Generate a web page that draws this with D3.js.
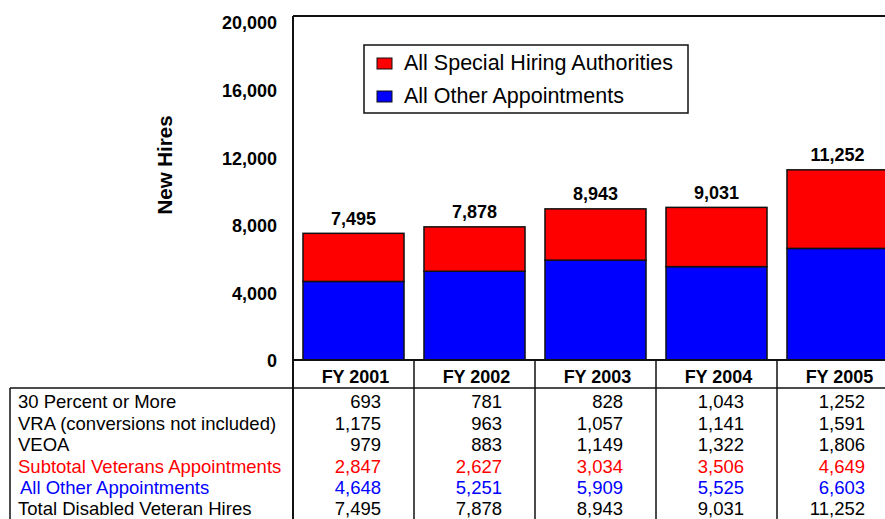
<!DOCTYPE html>
<html lang="en">
<head>
  <meta charset="UTF-8">
  <title>Disabled Veteran New Hires</title>
  <script src="https://d3js.org/d3.v7.min.js"></script>
  <style>
    body {
      margin: 0;
      background: #fff;
      font-family: "Liberation Sans", Arial, sans-serif;
    }
  </style>
</head>
<body>
  <div id="chart"></div>

  <script>
    // ============================
    // Data
    // ============================
    const years = ["FY 2001", "FY 2002", "FY 2003", "FY 2004", "FY 2005"];
    const specialHiring = [2847, 2627, 3034, 3506, 4649];
    const otherAppointments = [4648, 5251, 5909, 5525, 6603];
    const totals = [7495, 7878, 8943, 9031, 11252];
    const yTicks = [0, 4000, 8000, 12000, 16000, 20000];

    const rowLabels = [
      "30 Percent or More",
      "VRA (conversions not included)",
      "VEOA",
      "Subtotal Veterans Appointments",
      "All Other Appointments",
      "Total Disabled Veteran Hires"
    ];
    const thirtyPercent = [693, 781, 828, 1043, 1252];
    const vra = [1175, 963, 1057, 1141, 1591];
    const veoa = [979, 883, 1149, 1322, 1806];
    const rowValues = [thirtyPercent, vra, veoa, specialHiring, otherAppointments, totals];
    const rowColors = ["#000", "#000", "#000", "#ff0000", "#0000ff", "#000"];

    const legendLabels = ["All Special Hiring Authorities", "All Other Appointments"];
    const legendColors = ["#ff0000", "#0000ff"];

    // ============================
    // Layout
    // ============================
    const W = 885, H = 519;
    const plotLeft = 293, plotTop = 16, baseY = 360;

    const svg = d3.select("#chart")
      .append("svg")
      .attr("width", W)
      .attr("height", H);

    const x = d3.scaleBand()
      .domain(years)
      .range([plotLeft, plotLeft + 605])
      .paddingInner(0.165)
      .paddingOuter(0.0825);

    const y = d3.scaleLinear()
      .domain([0, 20000])
      .range([baseY, 22]);

    const fmt = d3.format(",");

    // ============================
    // Bars
    // ============================
    const stacked = years.map((yr, i) => ({
      year: yr,
      other: otherAppointments[i],
      special: specialHiring[i],
      total: totals[i]
    }));

    svg.selectAll(".bar-other")
      .data(stacked)
      .enter().append("rect")
      .attr("x", d => x(d.year))
      .attr("y", d => y(d.other))
      .attr("width", x.bandwidth())
      .attr("height", d => baseY - y(d.other))
      .attr("fill", "#0000ff")
      .attr("stroke", "#111")
      .attr("stroke-width", 1.5);

    svg.selectAll(".bar-special")
      .data(stacked)
      .enter().append("rect")
      .attr("x", d => x(d.year))
      .attr("y", d => y(d.other + d.special))
      .attr("width", x.bandwidth())
      .attr("height", d => y(d.other) - y(d.other + d.special))
      .attr("fill", "#ff0000")
      .attr("stroke", "#111")
      .attr("stroke-width", 1.5);

    svg.selectAll(".total-label")
      .data(stacked)
      .enter().append("text")
      .attr("x", d => x(d.year) + x.bandwidth() / 2)
      .attr("y", d => y(d.total) - 15)
      .attr("dy", "0.35em")
      .attr("text-anchor", "middle")
      .style("font-size", "18px")
      .style("font-weight", "bold")
      .text(d => fmt(d.total));

    // ============================
    // Axes and frame
    // ============================
    svg.selectAll(".y-tick")
      .data(yTicks)
      .enter().append("text")
      .attr("x", 277)
      .attr("y", d => y(d) + 1)
      .attr("dy", "0.35em")
      .attr("text-anchor", "end")
      .style("font-size", "18px")
      .style("font-weight", "bold")
      .text(d => fmt(d));

    svg.append("text")
      .attr("transform", `translate(172,165) rotate(-90)`)
      .attr("text-anchor", "middle")
      .style("font-size", "20.5px")
      .style("font-weight", "bold")
      .text("New Hires");

    // top frame and y axis
    svg.append("line")
      .attr("x1", plotLeft).attr("x2", W + 20)
      .attr("y1", plotTop).attr("y2", plotTop)
      .attr("stroke", "#111").attr("stroke-width", 2);
    svg.append("line")
      .attr("x1", plotLeft).attr("x2", plotLeft)
      .attr("y1", plotTop).attr("y2", H)
      .attr("stroke", "#111").attr("stroke-width", 2);
    // baseline
    svg.append("line")
      .attr("x1", plotLeft).attr("x2", W + 20)
      .attr("y1", baseY).attr("y2", baseY)
      .attr("stroke", "#111").attr("stroke-width", 2);

    // ============================
    // Legend
    // ============================
    const legend = svg.append("g");
    legend.append("rect")
      .attr("x", 364).attr("y", 45)
      .attr("width", 324).attr("height", 68)
      .attr("fill", "#fff")
      .attr("stroke", "#111")
      .attr("stroke-width", 1.5);

    const legendY = d3.scalePoint().domain(legendLabels).range([62, 95]);

    legend.selectAll(".swatch")
      .data(legendLabels)
      .enter().append("rect")
      .attr("x", 377)
      .attr("y", d => legendY(d) - 4)
      .attr("width", 15)
      .attr("height", 11)
      .attr("fill", (d, i) => legendColors[i])
      .attr("stroke", "#111")
      .attr("stroke-width", 1);

    legend.selectAll(".legend-text")
      .data(legendLabels)
      .enter().append("text")
      .attr("x", 404)
      .attr("y", d => legendY(d))
      .attr("dy", "0.35em")
      .style("font-size", "21.5px")
      .text(d => d);

    // ============================
    // Data table
    // ============================
    const step = x.step();
    const colLeft = d => x(d) - (step - x.bandwidth()) / 2;
    const headerY = 377, tableTop = 388;

    // header labels
    svg.selectAll(".header")
      .data(years)
      .enter().append("text")
      .attr("x", d => colLeft(d) + step / 2 + 2)
      .attr("y", headerY)
      .attr("dy", "0.35em")
      .attr("text-anchor", "middle")
      .style("font-size", "18px")
      .style("font-weight", "bold")
      .text(d => d);

    // column dividers
    svg.selectAll(".divider")
      .data(years.slice(1))
      .enter().append("line")
      .attr("x1", d => colLeft(d)).attr("x2", d => colLeft(d))
      .attr("y1", baseY).attr("y2", H)
      .attr("stroke", "#111").attr("stroke-width", 1.5);

    // table box
    svg.append("line")
      .attr("x1", 10).attr("x2", W + 20)
      .attr("y1", tableTop).attr("y2", tableTop)
      .attr("stroke", "#111").attr("stroke-width", 1.5);
    svg.append("line")
      .attr("x1", 10).attr("x2", 10)
      .attr("y1", tableTop).attr("y2", H)
      .attr("stroke", "#111").attr("stroke-width", 1.5);

    const rowY = d3.scalePoint().domain(rowLabels).range([402, 509]);

    svg.selectAll(".row-label")
      .data(rowLabels)
      .enter().append("text")
      .attr("x", (d, i) => i === 4 ? 20 : 18)
      .attr("y", d => rowY(d))
      .attr("dy", "0.35em")
      .attr("fill", (d, i) => rowColors[i])
      .style("font-size", "18.5px")
      .text(d => d);

    rowLabels.forEach((label, r) => {
      svg.selectAll(".cell-" + r)
        .data(rowValues[r])
        .enter().append("text")
        .attr("x", (d, i) => colLeft(years[i]) + step - 33)
        .attr("y", rowY(label))
        .attr("dy", "0.35em")
        .attr("text-anchor", "end")
        .attr("fill", rowColors[r])
        .style("font-size", "18.5px")
        .text(d => fmt(d));
    });
  </script>
</body>
</html>
